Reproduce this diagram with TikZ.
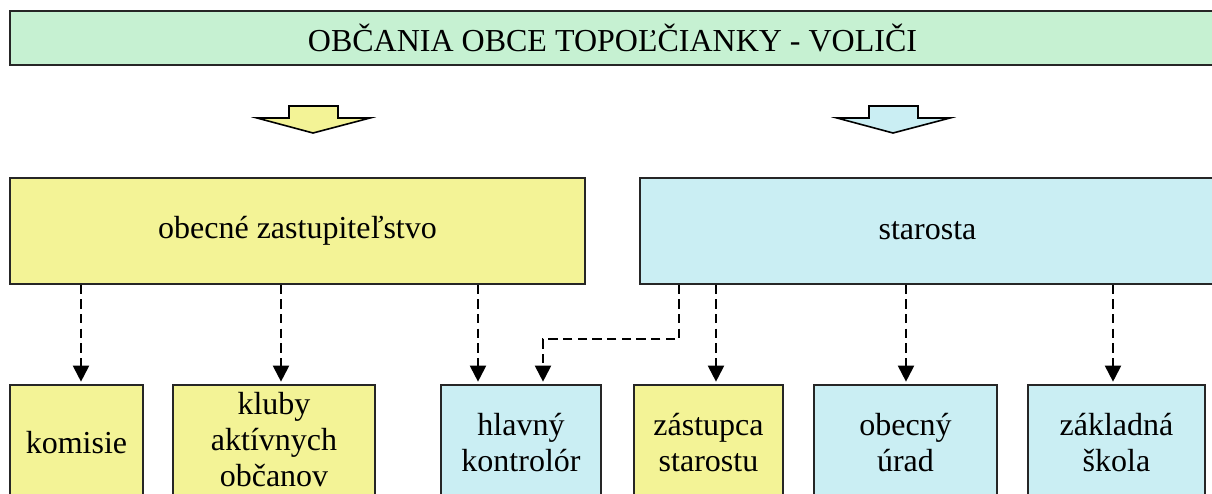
\documentclass[tikz,border=0pt]{standalone}
\usepackage{fontspec}
\setmainfont{Liberation Serif}
\usetikzlibrary{arrows.meta,calc}

\definecolor{zgreen}{RGB}{198,241,210}
\definecolor{zyellow}{RGB}{243,243,150}
\definecolor{zblue}{RGB}{202,238,243}

\tikzset{
  block/.style={draw=black!85, line width=1pt, inner sep=0pt, align=center,
    font=\fontsize{24}{27}\selectfont},
  link/.style={dashed, dash pattern=on 7pt off 4pt, line width=1.5pt,
    -{Triangle[width=12pt,length=12pt]}, shorten >=2pt},
}

\begin{document}
\begin{tikzpicture}[x=0.75pt,y=-0.75pt]
    \useasboundingbox (0,0) rectangle (1212,493);
    \clip (0,0) rectangle (1212,493);

    % top level
    \node[block, fill=zgreen, minimum width=1205*0.75pt, minimum height=54*0.75pt] (voters) at (612.5,38) {OBČANIA OBCE TOPOĽČIANKY - VOLIČI};

    % block arrows
    \foreach \xo/\col in {0/zyellow, 580/zblue}
        \filldraw[fill=\col, draw=black, line width=1.2pt, line join=miter, shift={(\xo,0)}]
            (289,106) -- (338,106) -- (338,118) -- (370,118) -- (313,133) -- (257,118) -- (289,118) -- cycle;

    % middle level
    \node[block, fill=zyellow, minimum width=575*0.75pt, minimum height=106*0.75pt] (council) at (297.5,231) {obecné zastupiteľstvo};
    \node[block, fill=zblue, minimum width=575*0.75pt, minimum height=106*0.75pt] (mayor) at (927.5,231) {starosta};

    % bottom level
    \node[block, fill=zyellow, minimum width=133*0.75pt, minimum height=116*0.75pt] (kom) at (76.5,443) {komisie};
    \node[block, fill=zyellow, minimum width=202*0.75pt, minimum height=110*0.75pt] (klub) at (274,440) {kluby\\aktívnych\\občanov};
    \node[block, fill=zblue, minimum width=160*0.75pt, minimum height=116*0.75pt] (hlav) at (521,443) {hlavný\\kontrolór};
    \node[block, fill=zyellow, minimum width=149*0.75pt, minimum height=116*0.75pt] (zast) at (708.5,443) {zástupca\\starostu};
    \node[block, fill=zblue, minimum width=183*0.75pt, minimum height=116*0.75pt] (urad) at (905.5,443) {obecný\\úrad};
    \node[block, fill=zblue, minimum width=177*0.75pt, minimum height=116*0.75pt] (skola) at (1116.5,443) {základná\\škola};

    % arrow ends on the boxes
    \coordinate (eKom) at ($(kom.north)+(4.5,0)$);
    \coordinate (eKlub) at ($(klub.north)+(7,0)$);
    \coordinate (eHlavA) at ($(hlav.north)+(-43,0)$);
    \coordinate (eHlavB) at ($(hlav.north)+(22,0)$);
    \coordinate (eZast) at ($(zast.north)+(7.5,0)$);
    \coordinate (eUrad) at ($(urad.north)+(0.5,0)$);
    \coordinate (eSkola) at ($(skola.north)+(-3.5,0)$);
    \coordinate (sElbow) at ($(mayor.south)+(-248.5,0)$);

    % links from the council
    \foreach \e in {eKom,eKlub,eHlavA}
        \draw[link] (council.south -| \e) -- (\e);

    % links from the mayor
    \draw[link] (sElbow) |- ($(eHlavB)+(0,-45)$) -- (eHlavB);
    \foreach \e in {eZast,eUrad,eSkola}
        \draw[link] (mayor.south -| \e) -- (\e);
\end{tikzpicture}
\end{document}
